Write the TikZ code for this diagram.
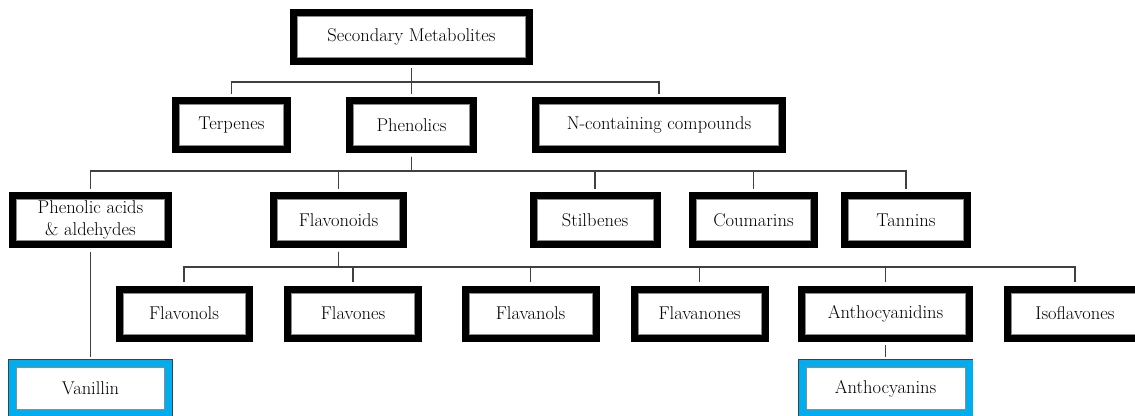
\documentclass[tikz,border=0pt]{standalone}
\definecolor{leafblue}{HTML}{00AEEF}
\newcommand{\chemnode}[6]{\node[#1, minimum width=#5] (#2) at (#3,#4) {#6}}

\tikzset{
  box/.style={draw=black, line width=7pt, fill=white, minimum height=49pt,
    inner sep=2pt, align=center, font=\rmfamily\fontsize{18.5}{22}\selectfont,
    path picture={\draw[black!45, line width=0.7pt]
      ([shift={(3.9pt,3.9pt)}]path picture bounding box.south west) rectangle
      ([shift={(-3.9pt,-3.9pt)}]path picture bounding box.north east);}},
  catbox/.style={box},
  leafbox/.style={box, draw=leafblue, minimum height=50pt,
    preaction={draw=black!75, line width=8.4pt}},
  link/.style={draw=black!75, line width=1.1pt, shorten <=3.5pt, shorten >=3.5pt}
}

\begin{document}
\begin{tikzpicture}[x=1pt,y=-1pt]
	\fill[white] (0,0) rectangle (1135,415);
	\useasboundingbox (0,0) rectangle (1135,415);
	% top levels
	\chemnode{catbox}{sec}{411.5}{36.5}{236pt}{Secondary Metabolites};
	\chemnode{catbox}{terp}{231.5}{125}{112pt}{Terpenes};
	\chemnode{catbox}{phen}{411.5}{125}{124pt}{Phenolics};
	\chemnode{catbox}{ncomp}{659}{125}{247pt}{N-containing compounds};
	% phenolics
	\chemnode{catbox}{acids}{90.5}{220}{156pt}{Phenolic acids\\ \& aldehydes};
	\chemnode{catbox}{flavd}{338.5}{220}{130pt}{Flavonoids};
	\chemnode{catbox}{stil}{595}{220}{124pt}{Stilbenes};
	\chemnode{catbox}{coum}{753.5}{220}{122pt}{Coumarins};
	\chemnode{catbox}{tann}{906}{220}{123pt}{Tannins};
	% flavonoids
	\chemnode{catbox}{fnol}{184}{313.5}{130pt}{Flavonols};
	\chemnode{catbox}{fone}{353}{313.5}{131pt}{Flavones};
	\chemnode{catbox}{fanol}{530.5}{313.5}{131pt}{Flavanols};
	\chemnode{catbox}{fanone}{699.5}{313.5}{131pt}{Flavanones};
	\chemnode{catbox}{antd}{885.5}{313.5}{168pt}{Anthocyanidins};
	\chemnode{catbox}{iso}{1075}{313.5}{135pt}{Isoflavones};
	% leaves
	\chemnode{leafbox}{van}{90.5}{388.5}{156pt}{Vanillin};
	\chemnode{leafbox}{anth}{885.5}{388.5}{167pt}{Anthocyanins};

	\coordinate (bar1) at (0,82);
	\coordinate (bar2) at (0,171);
	\coordinate (bar3) at (0,267);
	\foreach \n in {terp,phen,ncomp}
		\draw[link] (sec.south) -- (sec.south |- bar1) -| (\n.north);
	\foreach \n in {acids,flavd,stil,coum,tann}
		\draw[link] (phen.south) -- (phen.south |- bar2) -| (\n.north);
	\foreach \n in {fnol,fone,fanol,fanone,antd,iso}
		\draw[link] (flavd.south) -- (flavd.south |- bar3) -| (\n.north);
	\draw[link] (acids.south) -- (van.north);
	\draw[link] (antd.south) -- (anth.north);
\end{tikzpicture}
\end{document}
